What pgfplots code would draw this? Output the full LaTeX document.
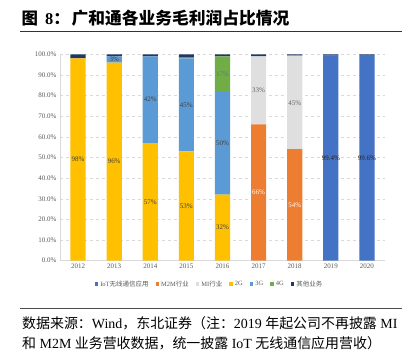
\documentclass[border=0pt]{standalone}
\usepackage{pgfplots}
\pgfplotsset{compat=1.18}
\usepackage{fontspec}
\setmainfont{Liberation Serif}
\newfontfamily\cjk{Noto Sans CJK SC}
\definecolor{iot}{HTML}{4472C4}
\definecolor{m2m}{HTML}{ED7D31}
\definecolor{mi}{HTML}{DFDFDF}
\definecolor{gtwo}{HTML}{FFC000}
\definecolor{gthree}{HTML}{5B9BD5}
\definecolor{gfour}{HTML}{70AD47}
\definecolor{oth}{HTML}{203864}
\definecolor{gridc}{HTML}{D9D9D9}
\definecolor{tickc}{HTML}{595959}
\begin{document}
\begin{tikzpicture}
\useasboundingbox (0bp,0bp) rectangle (412bp,352bp);
% title
\node[anchor=base west, inner sep=0, font=\bfseries\fontsize{16.5}{18}\selectfont] at (21.5bp,327.2bp) {\cjk 图};
\node[anchor=base west, inner sep=0, font=\bfseries\fontsize{16.5}{18}\selectfont] at (45bp,327.2bp) {8{\cjk ：}};
\node[anchor=base west, inner sep=0, font=\bfseries\fontsize{16.8}{18}\selectfont] at (71.5bp,327.2bp) {\cjk 广和通各业务毛利润占比情况};
\draw[line width=1bp, color=black!80] (20bp,320.3bp) -- (401.7bp,320.3bp);
\draw[line width=1bp, color=black!70] (20bp,43bp) -- (401.7bp,43bp);
% footnote
\node[anchor=base west, inner sep=0, font=\fontsize{14}{16}\selectfont] at (22bp,23.7bp) {{\cjk 数据来源：}Wind{\cjk ，东北证券（注：}2019 {\cjk 年起公司不再披露} MI};
\node[anchor=base west, inner sep=0, font=\fontsize{14}{16}\selectfont] at (22bp,4bp) {{\cjk 和} M2M {\cjk 业务营收数据，统一披露} IoT {\cjk 无线通信应用营收）}};

\begin{axis}[
  at={(60bp,91.3bp)}, anchor=south west,
  width=325bp, height=206.4bp, scale only axis,
  ybar stacked, bar width=0.42,
  xmin=-0.5, xmax=8.5, ymin=0, ymax=100,
  xtick={0,1,2,3,4,5,6,7,8},
  xticklabels={2012,2013,2014,2015,2016,2017,2018,2019,2020},
  ytick={0,10,20,30,40,50,60,70,80,90,100},
  yticklabel={\pgfmathprintnumber[fixed,fixed zerofill,precision=1]{\tick}\%},
  ymajorgrids, grid style={dashed, color=gridc, line width=0.5pt},
  axis x line*=bottom, axis y line*=left,
  x axis line style={color=gridc, line width=0.8pt},
  y axis line style={color=gridc, line width=0.5pt},
  major tick length=0pt,
  tick label style={font=\fontsize{7}{8}\selectfont, text=tickc},
  /pgf/number format/assume math mode=true,
  legend columns=7,
  legend style={draw=none, at={(0.46,-0.113)}, anchor=center,
    font=\fontsize{6.5}{7}\selectfont, text=tickc,
    /tikz/every even column/.append style={column sep=5bp},
    inner sep=0pt},
  legend image code/.code={\draw[#1,draw=none] (0bp,-1.8bp) rectangle (3.6bp,1.8bp);},
]
\addplot[fill=iot, draw=none] coordinates {(0,0) (1,0) (2,0) (3,0) (4,0) (5,0) (6,0) (7,99.4) (8,99.6)};
\addlegendentry{IoT{\cjk 无线通信应用}}
\addplot[fill=m2m, draw=none] coordinates {(0,0) (1,0) (2,0) (3,0) (4,0) (5,66) (6,54) (7,0) (8,0)};
\addlegendentry{M2M{\cjk 行业}}
\addplot[fill=mi, draw=none] coordinates {(0,0) (1,0) (2,0) (3,0) (4,0) (5,33) (6,45.3) (7,0) (8,0)};
\addlegendentry{MI{\cjk 行业}}
\addplot[fill=gtwo, draw=none] coordinates {(0,98) (1,96) (2,57) (3,53) (4,32) (5,0) (6,0) (7,0) (8,0)};
\addlegendentry{2G}
\addplot[fill=gthree, draw=none] coordinates {(0,0) (1,3) (2,42) (3,45) (4,50.2) (5,0) (6,0) (7,0) (8,0)};
\addlegendentry{3G}
\addplot[fill=gfour, draw=none] coordinates {(0,0) (1,0) (2,0) (3,0.4) (4,16.8) (5,0) (6,0) (7,0) (8,0)};
\addlegendentry{4G}
\addplot[fill=oth, draw=none] coordinates {(0,2) (1,1) (2,1) (3,1.6) (4,1) (5,1) (6,0.7) (7,0.6) (8,0.4)};
\addlegendentry{{\cjk 其他业务}}
\end{axis}

% data labels (segment midpoints)
\begin{axis}[
  at={(60bp,91.3bp)}, anchor=south west,
  width=325bp, height=206.4bp, scale only axis,
  xmin=-0.5, xmax=8.5, ymin=0, ymax=100, hide axis,
  point meta=explicit symbolic,
  nodes near coords,
  every node near coord/.append style={anchor=center, font=\fontsize{7}{8}\selectfont, inner sep=0pt},
]
\addplot[draw=none, mark=none, nodes near coords style={text=black!75}] coordinates {(0,49) [98\%] (1,48) [96\%] (2,28.5) [57\%] (3,26.5) [53\%] (4,16) [32\%]};
\addplot[draw=none, mark=none, nodes near coords style={text=black!75}] coordinates {(1,97.5) [3\%] (2,78) [42\%] (3,75.5) [45\%] (4,57) [50\%]};
\addplot[draw=none, mark=none, nodes near coords style={text=black!55}] coordinates {(4,90.5) [17\%]};
\addplot[draw=none, mark=none, nodes near coords style={text=black!60}] coordinates {(5,82.5) [33\%] (6,76.5) [45\%]};
\addplot[draw=none, mark=none, nodes near coords style={text=white}] coordinates {(5,33) [66\%] (6,27) [54\%]};
\addplot[draw=none, mark=none, nodes near coords style={text=black!85}] coordinates {(7,49.7) [99.4\%] (8,49.8) [99.6\%]};
\end{axis}
\end{tikzpicture}
\end{document}
